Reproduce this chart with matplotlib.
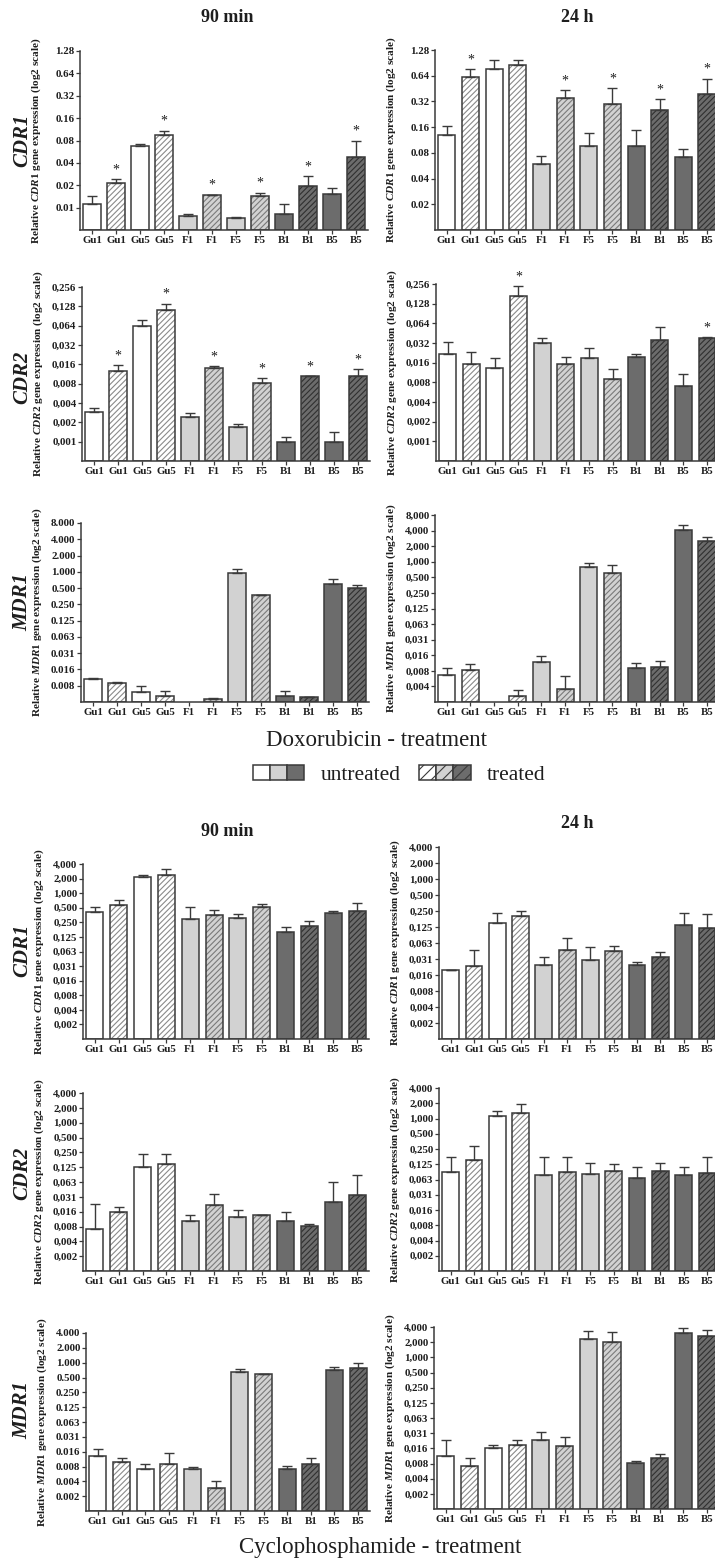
import numpy as np
import matplotlib
matplotlib.use('Agg')
import matplotlib.pyplot as plt
from matplotlib.patches import Patch
from matplotlib.legend_handler import HandlerTuple

plt.rcParams['font.family'] = ['Liberation Serif', 'DejaVu Serif']
plt.rcParams['mathtext.fontset'] = 'custom'
plt.rcParams['mathtext.it'] = 'Liberation Serif:italic:bold'
plt.rcParams['mathtext.rm'] = 'Liberation Serif:bold'
plt.rcParams['hatch.linewidth'] = 0.8

nan = np.nan
categories = ['Gu1', 'Gu1', 'Gu5', 'Gu5', 'F1', 'F1', 'F5', 'F5', 'B1', 'B1', 'B5', 'B5']
treated = [False, True, False, True, False, True, False, True, False, True, False, True]

# ---------------- Doxorubicin ----------------
dox_cdr1_90 = [0.0111, 0.0216, 0.068, 0.096, 0.0077, 0.0146, 0.0073, 0.0143, 0.0083, 0.0195, 0.0151, 0.0486]
dox_cdr1_90_hi = [0.0142, 0.0244, 0.071, 0.108, 0.0083, 0.0150, 0.0075, 0.0159, 0.0113, 0.0263, 0.0183, 0.080]
dox_cdr1_90_sig = [0, 1, 0, 1, 0, 1, 0, 1, 0, 1, 0, 1]

dox_cdr1_24 = [0.131, 0.62, 0.76, 0.86, 0.059, 0.348, 0.097, 0.30, 0.097, 0.254, 0.071, 0.39]
dox_cdr1_24_hi = [0.163, 0.77, 0.98, 0.98, 0.073, 0.43, 0.135, 0.46, 0.15, 0.34, 0.088, 0.59]
dox_cdr1_24_sig = [0, 1, 0, 0, 0, 1, 0, 1, 0, 1, 0, 1]

dox_cdr2_90 = [0.0029, 0.0124, 0.063, 0.112, 0.0024, 0.0139, 0.0017, 0.0083, 0.0010, 0.0105, 0.0010, 0.0105]
dox_cdr2_90_hi = [0.0033, 0.0156, 0.0775, 0.141, 0.0028, 0.0149, 0.0019, 0.0097, 0.00118, 0.0105, 0.0014, 0.0135]
dox_cdr2_90_sig = [0, 1, 0, 1, 0, 1, 0, 1, 0, 1, 0, 1]

dox_cdr2_24 = [0.022, 0.015, 0.0131, 0.17, 0.0316, 0.015, 0.0186, 0.009, 0.0195, 0.0356, 0.007, 0.0387]
dox_cdr2_24_hi = [0.033, 0.0236, 0.0188, 0.237, 0.0377, 0.0197, 0.0268, 0.0129, 0.0214, 0.0564, 0.0109, 0.039]
dox_cdr2_24_sig = [0, 0, 0, 1, 0, 0, 0, 0, 0, 0, 0, 1]

dox_mdr1_90 = [0.0103, 0.0089, 0.0061, 0.0051, nan, 0.0044, 0.96, 0.374, 0.0051, 0.0048, 0.607, 0.50]
dox_mdr1_90_hi = [0.0107, 0.0090, 0.0076, 0.0063, nan, 0.0046, 1.15, 0.38, 0.0063, 0.0049, 0.75, 0.565]

dox_mdr1_24 = [0.0065, 0.0082, nan, 0.0026, 0.0116, 0.0035, 0.78, 0.60, 0.0087, 0.0091, 4.12, 2.57]
dox_mdr1_24_hi = [0.0089, 0.0105, nan, 0.0033, 0.0152, 0.0063, 0.94, 0.86, 0.011, 0.0122, 5.06, 2.98]

# ---------------- Cyclophosphamide ----------------
cyc_cdr1_90 = [0.41, 0.575, 2.13, 2.42, 0.29, 0.35, 0.31, 0.52, 0.158, 0.207, 0.39, 0.43]
cyc_cdr1_90_hi = [0.53, 0.72, 2.42, 3.1, 0.51, 0.45, 0.37, 0.585, 0.203, 0.27, 0.43, 0.62]

cyc_cdr1_24 = [0.0194, 0.0234, 0.147, 0.199, 0.0245, 0.046, 0.030, 0.045, 0.0245, 0.0346, 0.136, 0.121]
cyc_cdr1_24_hi = [0.0194, 0.0468, 0.229, 0.254, 0.0335, 0.078, 0.052, 0.054, 0.027, 0.042, 0.233, 0.22]

cyc_cdr2_90 = [0.0071, 0.0153, 0.127, 0.148, 0.010, 0.0215, 0.0121, 0.0133, 0.010, 0.0081, 0.0244, 0.0333]
cyc_cdr2_90_hi = [0.0226, 0.0193, 0.235, 0.235, 0.0135, 0.0354, 0.0171, 0.0133, 0.0153, 0.0088, 0.062, 0.086]

cyc_cdr2_24 = [0.086, 0.152, 1.13, 1.29, 0.076, 0.086, 0.080, 0.091, 0.066, 0.091, 0.077, 0.083]
cyc_cdr2_24_hi = [0.172, 0.287, 1.43, 1.91, 0.177, 0.177, 0.135, 0.125, 0.111, 0.131, 0.112, 0.172]

cyc_mdr1_90 = [0.0128, 0.0098, 0.0069, 0.0087, 0.0069, 0.0029, 0.66, 0.58, 0.0069, 0.0088, 0.70, 0.79]
cyc_mdr1_90_hi = [0.018, 0.0118, 0.0088, 0.0145, 0.0078, 0.0039, 0.74, 0.58, 0.0079, 0.0118, 0.82, 1.0]

cyc_mdr1_24 = [0.0112, 0.0071, 0.0162, 0.0179, 0.0232, 0.0177, 2.27, 1.98, 0.0079, 0.0099, 3.03, 2.64]
cyc_mdr1_24_hi = [0.0232, 0.0102, 0.0179, 0.0232, 0.0324, 0.026, 3.3, 3.2, 0.0089, 0.012, 3.8, 3.47]

no_sig = [0] * 12

# ---------------- y tick labels ----------------
ticks_dox_cdr1_90 = ['1.28', '0.64', '0.32', '0.16', '0.08', '0.04', '0.02', '0.01']
ticks_dox_cdr1_24 = ['1.28', '0.64', '0.32', '0.16', '0.08', '0.04', '0.02']
ticks_dox_cdr2 = ['0,256', '0,128', '0,064', '0,032', '0,016', '0,008', '0,004', '0,002', '0,001']
ticks_dox_mdr1_90 = ['8.000', '4.000', '2.000', '1.000', '0.500', '0.250', '0.125', '0.063', '0.031', '0.016', '0.008']
ticks_dox_mdr1_24 = ['8,000', '4,000', '2,000', '1,000', '0,500', '0,250', '0,125', '0,063', '0,031', '0,016', '0,008', '0,004']
ticks_cyc = ['4,000', '2,000', '1,000', '0,500', '0,250', '0,125', '0,063', '0,031', '0,016', '0,008', '0,004', '0,002']
ticks_cyc_mdr1_90 = ['4.000', '2.000', '1.000', '0.500', '0.250', '0.125', '0.063', '0.031', '0.016', '0.008', '0.004', '0.002']

# ---------------- figure ----------------
W, H = 715, 1560
fig = plt.figure(figsize=(W / 100, H / 100), dpi=100, facecolor='white')

EDGE = '#3a3a3a'
TXT = '#1e1e1e'
fill_of = {'Gu': 'white', 'F': '#d2d2d2', 'B': '#6c6c6c'}
hatch_col_of = {'Gu': '#8a8a8a', 'F': '#7a7a7a', 'B': '#303030'}

def grp(c):
    return 'Gu' if c.startswith('Gu') else c[0]

def right_w(left):
    # keep the last tick label of the right column just inside the figure
    return min(288, (707 - left) * 12 / 11.5)

# (left px, top px, bottom px, width px) for every panel
panels = [
    (dox_cdr1_90, dox_cdr1_90_hi, dox_cdr1_90_sig, ticks_dox_cdr1_90, 'CDR1', (80, 51, 230, 288)),
    (dox_cdr1_24, dox_cdr1_24_hi, dox_cdr1_24_sig, ticks_dox_cdr1_24, 'CDR1', (435, 50, 230, right_w(435))),
    (dox_cdr2_90, dox_cdr2_90_hi, dox_cdr2_90_sig, ticks_dox_cdr2, 'CDR2', (82, 287, 461, 288)),
    (dox_cdr2_24, dox_cdr2_24_hi, dox_cdr2_24_sig, ticks_dox_cdr2, 'CDR2', (436, 284, 461, right_w(436))),
    (dox_mdr1_90, dox_mdr1_90_hi, no_sig, ticks_dox_mdr1_90, 'MDR1', (81, 523, 702, 288)),
    (dox_mdr1_24, dox_mdr1_24_hi, no_sig, ticks_dox_mdr1_24, 'MDR1', (435, 515, 702, right_w(435))),
    (cyc_cdr1_90, cyc_cdr1_90_hi, no_sig, ticks_cyc, 'CDR1', (83, 864, 1039, 286)),
    (cyc_cdr1_24, cyc_cdr1_24_hi, no_sig, ticks_cyc, 'CDR1', (439, 847, 1039, right_w(439))),
    (cyc_cdr2_90, cyc_cdr2_90_hi, no_sig, ticks_cyc, 'CDR2', (83, 1093, 1271, 286)),
    (cyc_cdr2_24, cyc_cdr2_24_hi, no_sig, ticks_cyc, 'CDR2', (439, 1088, 1271, right_w(439))),
    (cyc_mdr1_90, cyc_mdr1_90_hi, no_sig, ticks_cyc_mdr1_90, 'MDR1', (86, 1333, 1511, 284)),
    (cyc_mdr1_24, cyc_mdr1_24_hi, no_sig, ticks_cyc, 'MDR1', (434, 1327, 1509, right_w(434))),
]

x = np.arange(len(categories))

for vals, hi, sig, tlabels, gene, (lp, tp, bp, wp) in panels:
    ax = fig.add_axes([lp / W, 1 - bp / H, wp / W, (bp - tp) / H])
    ax.set_facecolor('none')
    ax.set_yscale('log', base=2)
    top = float(tlabels[0].replace(',', '.'))
    tpos = [top / 2 ** k for k in range(len(tlabels))]
    ymin = tpos[-1] / 2
    ax.set_ylim(ymin, top)
    ax.set_xlim(-0.5, len(categories) - 0.5)

    vals = np.asarray(vals, float)
    hi = np.asarray(hi, float)
    for i, c in enumerate(categories):
        g = grp(c)
        if np.isnan(vals[i]):
            continue
        if treated[i]:
            ax.bar(x[i], vals[i] - ymin, bottom=ymin, width=0.72, color=fill_of[g],
                   edgecolor=hatch_col_of[g], hatch='//////', linewidth=0, zorder=2)
            ax.bar(x[i], vals[i] - ymin, bottom=ymin, width=0.72, color='none',
                   edgecolor=EDGE, linewidth=1.1, zorder=2.5)
        else:
            ax.bar(x[i], vals[i] - ymin, bottom=ymin, width=0.72, color=fill_of[g],
                   edgecolor=EDGE, linewidth=1.1, zorder=2)
    ax.errorbar(x, hi, yerr=[hi - vals, np.zeros_like(hi)], fmt='none',
                ecolor=EDGE, elinewidth=1.0, capsize=3.5, capthick=1.0, zorder=3)
    for i in range(len(categories)):
        if sig[i]:
            ax.annotate('*', (x[i], hi[i]), xytext=(0, 2), textcoords='offset points',
                        ha='center', va='bottom', fontsize=10, color=TXT)

    ax.set_yticks(tpos)
    ax.set_yticklabels(tlabels)
    ax.minorticks_off()
    ax.set_xticks(x)
    ax.set_xticklabels(categories)
    for s in ['top', 'right']:
        ax.spines[s].set_visible(False)
    for s in ['left', 'bottom']:
        ax.spines[s].set_color(EDGE)
        ax.spines[s].set_linewidth(1.1)
    ax.tick_params(axis='y', length=3, width=0.9, pad=1, labelsize=7.8, colors=TXT, color=EDGE)
    ax.tick_params(axis='x', length=3, width=0.9, pad=1.5, labelsize=7.8, colors=TXT, color=EDGE)
    for lab in ax.get_xticklabels() + ax.get_yticklabels():
        lab.set_fontweight('bold')
    ax.set_ylabel('Relative $\\mathit{%s}$ gene expression (log2 scale)' % gene,
                  fontsize=8.1, fontweight='bold', color=TXT)
    ax.yaxis.set_label_coords(-37 / wp, 0.5)

# panel titles
for ty in (17, 832):
    fig.text(227 / W, 1 - ty / H, '90 min', ha='center', va='center', fontsize=13,
             fontweight='bold', color=TXT)
for ty in (17, 823):
    fig.text(577 / W, 1 - ty / H, '24 h', ha='center', va='center', fontsize=13,
             fontweight='bold', color=TXT)

# gene labels on the left
for gy, gname in [(140, 'CDR1'), (377, 'CDR2'), (602, 'MDR1'),
                  (950, 'CDR1'), (1173, 'CDR2'), (1410, 'MDR1')]:
    fig.text(22 / W, 1 - gy / H, gname, rotation=90, ha='center', va='center',
             fontsize=15, fontweight='bold', style='italic', color=TXT)

# treatment captions
fig.text(377 / W, 1 - 740 / H, 'Doxorubicin - treatment', ha='center', va='center',
         fontsize=16.5, color=TXT)
fig.text(380 / W, 1 - 1547 / H, 'Cyclophosphamide - treatment', ha='center', va='center',
         fontsize=16.5, color=TXT)

# legend
unt = tuple(Patch(facecolor=fill_of[g], edgecolor=EDGE, linewidth=1.1) for g in ['Gu', 'F', 'B'])
trt = tuple(Patch(facecolor=fill_of[g], edgecolor=EDGE, hatch='///', linewidth=1.1) for g in ['Gu', 'F', 'B'])
fig.legend([unt, trt], ['untreated', 'treated'], loc='center',
           bbox_to_anchor=(399 / W, 1 - 775 / H), ncol=2, frameon=False, fontsize=15.5,
           handlelength=2.4, handleheight=0.7, handletextpad=0.75, columnspacing=0.85,
           handler_map={tuple: HandlerTuple(ndivide=None, pad=0)}, labelcolor=TXT)

fig.savefig('out.png', dpi=100, facecolor='white')
